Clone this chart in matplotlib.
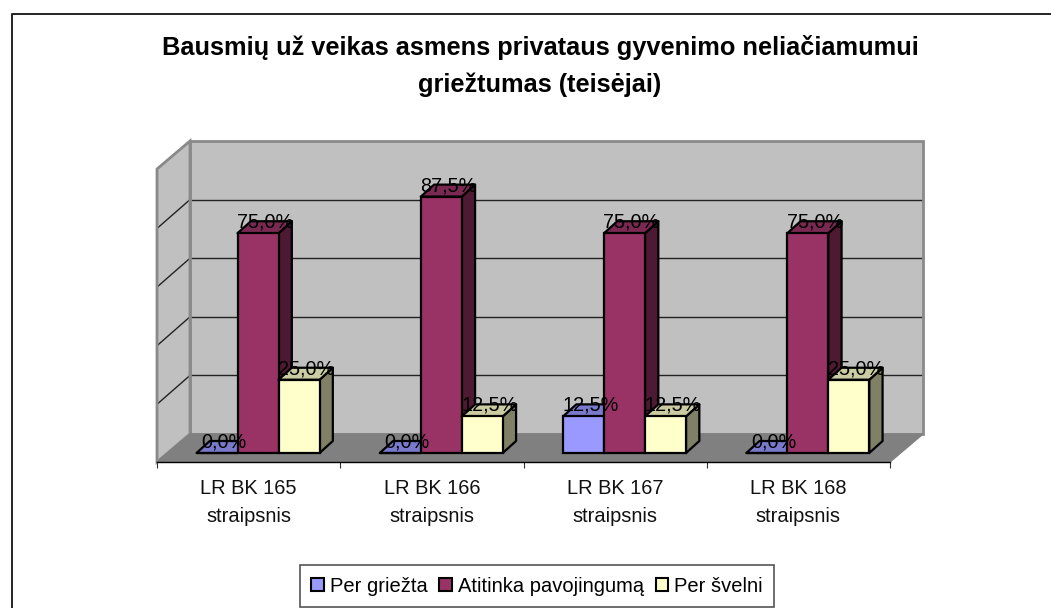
import matplotlib
matplotlib.use("Agg")
import matplotlib.pyplot as plt
from matplotlib.patches import Polygon, Patch
from matplotlib.lines import Line2D
from matplotlib.transforms import Affine2D

plt.rcParams['font.family'] = ['Liberation Sans', 'DejaVu Sans']

categories = ["LR BK 165\nstraipsnis", "LR BK 166\nstraipsnis", "LR BK 167\nstraipsnis", "LR BK 168\nstraipsnis"]
series_names = ["Per griežta", "Atitinka pavojingumą", "Per švelni"]
per_griezta = [0.0, 0.0, 12.5, 0.0]
atitinka = [75.0, 87.5, 75.0, 75.0]
per_svelni = [25.0, 12.5, 12.5, 25.0]
grid_values = [0, 20, 40, 60, 80, 100]
title = "Bausmių už veikas asmens privataus gyvenimo neliačiamumui\ngriežtumas (teisėjai)"

front_cols = ['#9999FF', '#993366', '#FFFFCC']
top_cols = ['#7A7ACC', '#7A2952', '#CCCCA3']
side_cols = ['#4D4D80', '#4D1933', '#808066']

W, H = 1051, 608
fig = plt.figure(figsize=(W / 100, H / 100), dpi=100, facecolor='white')
# x 0..4 -> px 157..890 ; y 0..100 -> px 453..160
ax = fig.add_axes([157 / W, (H - 453) / H, (890 - 157) / W, 293 / H])
ax.set_xlim(0, 4)
ax.set_ylim(0, 100)
ax.patch.set_visible(False)


def off(dx, dy):
    return ax.transData + Affine2D().translate(dx, dy)


# walls and floor
back = off(33, 19)
wall_col, wall_edge = '#C0C0C0', '#8A8A8A'
ax.add_patch(Polygon([(0, 0), (4, 0), (4, 100), (0, 100)], closed=True, transform=back,
                     facecolor=wall_col, edgecolor='none', clip_on=False, zorder=1))
px, py = ax.transData.transform((0, 0))
ptop = ax.transData.transform((0, 100))[1]
rx = ax.transData.transform((4, 0))[0]
ax.add_artist(Polygon([(px, py - 9), (px + 33, py + 19), (px + 33, ptop + 19), (px, ptop - 9)], closed=True,
                      transform=None, facecolor=wall_col, edgecolor='none', clip_on=False, zorder=1))
for v in grid_values[1:-1]:
    ax.plot([0, 4], [v, v], transform=back, color='#222222', lw=1, clip_on=False, zorder=1.5,
            solid_capstyle='butt')
    yp = ax.transData.transform((0, v))[1]
    ax.add_artist(Line2D([px + 1, px + 33], [yp - 9, yp + 19], transform=None, color='#222222', lw=1, zorder=1.5))
ax.add_patch(Polygon([(0, 0), (4, 0), (4, 100), (0, 100)], closed=True, transform=back,
                     facecolor='none', edgecolor=wall_edge, lw=2, clip_on=False, zorder=1.6))
ax.add_artist(Polygon([(px, py - 9), (px + 33, py + 19), (px + 33, ptop + 19), (px, ptop - 9)], closed=True,
                      transform=None, facecolor='none', edgecolor=wall_edge, lw=2, clip_on=False, zorder=1.6))
ax.add_artist(Polygon([(px, py - 9), (rx, py - 9), (rx + 33, py + 19), (px + 33, py + 19)], closed=True,
                      transform=None, facecolor='#808080', edgecolor='#808080', lw=1, clip_on=False, zorder=2))

# bars
bar_w = 41 / (733 / 4)
bar_dx, dep_x, dep_y = 9.4, 13.3, 12
bar_tr = off(bar_dx, 0)
all_series = [per_griezta, atitinka, per_svelni]
for i in range(len(categories)):
    for j, vals in enumerate(all_series):
        v = vals[i]
        xc = i + 0.5 + (j - 1) * bar_w
        z = 3 + i + j * 0.1
        x0, x1 = xc - bar_w / 2, xc + bar_w / 2
        (ax0, ay0), (ax1, ay1) = ax.transData.transform([(x0, 0), (x1, v)])
        ax0 += bar_dx
        ax1 += bar_dx
        kw = dict(closed=True, transform=None, edgecolor='black', lw=1.6, clip_on=False, zorder=z, joinstyle='round')
        ax.add_artist(Polygon([(ax1, ay0), (ax1 + dep_x, ay0 + dep_y), (ax1 + dep_x, ay1 + dep_y), (ax1, ay1)],
                              facecolor=side_cols[j], **kw))
        ax.add_artist(Polygon([(ax0, ay1), (ax1, ay1), (ax1 + dep_x, ay1 + dep_y), (ax0 + dep_x, ay1 + dep_y)],
                              facecolor=top_cols[j], **kw))
        ax.bar(xc, v, width=bar_w, transform=bar_tr, color=front_cols[j], edgecolor='black', lw=1.6,
               clip_on=False, zorder=z)

# data labels above everything
lab_tr = off(bar_dx + 7, 11)
for j, vals in enumerate(all_series):
    for i, v in enumerate(vals):
        xc = i + 0.5 + (j - 1) * bar_w
        ax.text(xc, v, f"{v:.1f}%".replace('.', ','), transform=lab_tr, ha='center', va='center',
                fontsize=14.3, color='black', zorder=20, clip_on=False)

# axes
for s in ['top', 'left', 'right']:
    ax.spines[s].set_visible(False)
ax.spines['bottom'].set_position(('outward', 9 * 0.72))
ax.spines['bottom'].set_linewidth(1.0)
ax.spines['bottom'].set_zorder(2.5)
ax.set_yticks([])
ax.set_xticks(range(5))
ax.set_xticklabels([])
ax.set_xticks([i + 0.5 for i in range(4)], minor=True)
ax.set_xticklabels(categories, minor=True, fontsize=14.4, linespacing=1.6, color='#111111')
ax.tick_params(axis='x', which='major', length=4.5, width=0.8, color='#333333')
ax.tick_params(axis='x', which='minor', length=0, pad=12.4)

# title
fig.text(540 / W, 1 - 66 / H, title, ha='center', va='center', fontsize=18.3, fontweight='bold',
         linespacing=1.68, color='black')

# legend
handles = [Patch(facecolor=c, edgecolor='black', lw=1.5) for c in front_cols]
leg = fig.legend(handles, series_names, loc='center', bbox_to_anchor=(537 / W, 1 - 586 / H), ncols=3,
                 fontsize=14.5, frameon=True, fancybox=False, edgecolor='#555555', framealpha=1,
                 handlelength=0.6, handleheight=0.6, handletextpad=0.3, columnspacing=0.6,
                 borderpad=0.55, borderaxespad=0)
leg.get_frame().set_linewidth(1.2)

# chart border (only top and left are inside the picture)
fig.add_artist(Line2D([11.5 / W, 11.5 / W, 1], [0, 1 - 13.5 / H, 1 - 13.5 / H], transform=fig.transFigure,
                      color='#222222', lw=1.4))

fig.savefig('out.png', dpi=100, facecolor='white')
